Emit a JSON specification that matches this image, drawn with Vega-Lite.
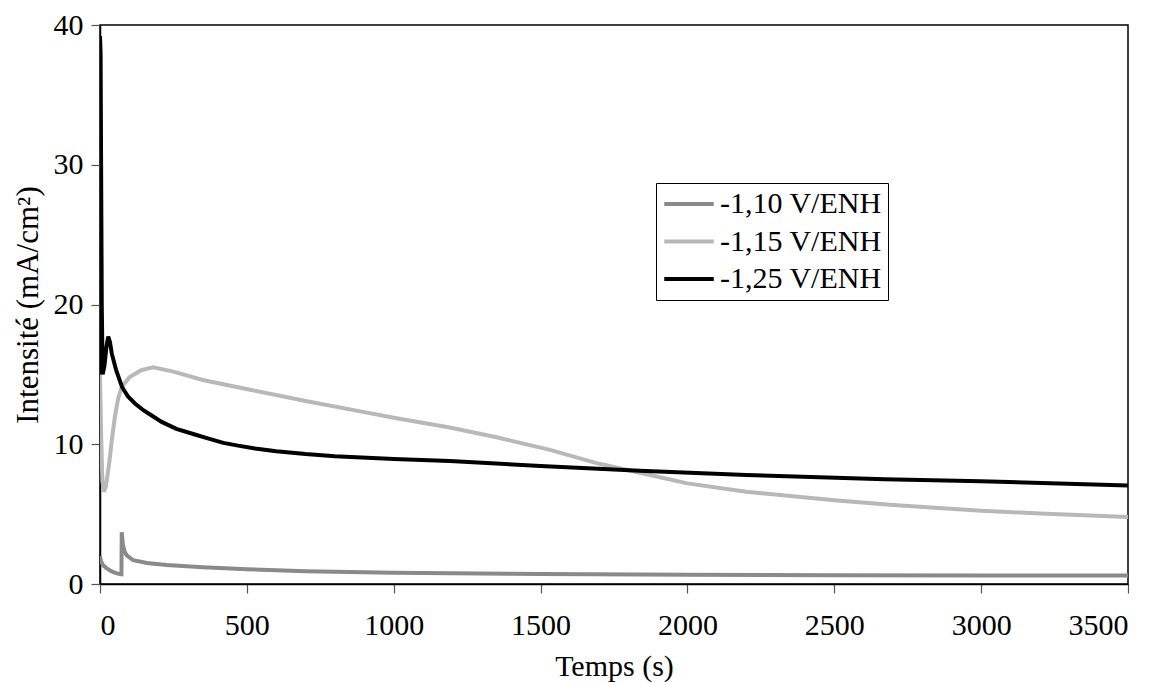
{
  "$schema": "https://vega.github.io/schema/vega-lite/v6.json",
  "width": 1028,
  "height": 559,
  "autosize": {"type": "none"},
  "padding": {"left": 100, "top": 25, "right": 33, "bottom": 99},
  "background": "white",
  "config": {
    "font": "Liberation Serif",
    "view": {"stroke": "black", "strokeWidth": 1.5},
    "axis": {
      "domainColor": "black",
      "domainWidth": 1.5,
      "tickColor": "#555555",
      "tickSize": 9,
      "tickWidth": 1.2,
      "grid": false
    }
  },
  "data": {
    "values": [
      {"series": "-1,10 V/ENH", "t": 0, "v": 2.0},
      {"series": "-1,10 V/ENH", "t": 3, "v": 1.65},
      {"series": "-1,10 V/ENH", "t": 10, "v": 1.35},
      {"series": "-1,10 V/ENH", "t": 22, "v": 1.14},
      {"series": "-1,10 V/ENH", "t": 40, "v": 0.9},
      {"series": "-1,10 V/ENH", "t": 55, "v": 0.78},
      {"series": "-1,10 V/ENH", "t": 68, "v": 0.71},
      {"series": "-1,10 V/ENH", "t": 73, "v": 0.7},
      {"series": "-1,10 V/ENH", "t": 74, "v": 3.7},
      {"series": "-1,10 V/ENH", "t": 78, "v": 2.8},
      {"series": "-1,10 V/ENH", "t": 84, "v": 2.3},
      {"series": "-1,10 V/ENH", "t": 91, "v": 2.05},
      {"series": "-1,10 V/ENH", "t": 113, "v": 1.7},
      {"series": "-1,10 V/ENH", "t": 160, "v": 1.5},
      {"series": "-1,10 V/ENH", "t": 227, "v": 1.36},
      {"series": "-1,10 V/ENH", "t": 350, "v": 1.2},
      {"series": "-1,10 V/ENH", "t": 500, "v": 1.05},
      {"series": "-1,10 V/ENH", "t": 700, "v": 0.92},
      {"series": "-1,10 V/ENH", "t": 1000, "v": 0.8},
      {"series": "-1,10 V/ENH", "t": 1500, "v": 0.72},
      {"series": "-1,10 V/ENH", "t": 2000, "v": 0.66},
      {"series": "-1,10 V/ENH", "t": 2500, "v": 0.63},
      {"series": "-1,10 V/ENH", "t": 3000, "v": 0.6},
      {"series": "-1,10 V/ENH", "t": 3500, "v": 0.6},

      {"series": "-1,15 V/ENH", "t": 0, "v": 15.0},
      {"series": "-1,15 V/ENH", "t": 4, "v": 10.5},
      {"series": "-1,15 V/ENH", "t": 8, "v": 7.4},
      {"series": "-1,15 V/ENH", "t": 13, "v": 6.6},
      {"series": "-1,15 V/ENH", "t": 20, "v": 7.0},
      {"series": "-1,15 V/ENH", "t": 27, "v": 8.0},
      {"series": "-1,15 V/ENH", "t": 34, "v": 9.1},
      {"series": "-1,15 V/ENH", "t": 42, "v": 10.6},
      {"series": "-1,15 V/ENH", "t": 51, "v": 12.0},
      {"series": "-1,15 V/ENH", "t": 62, "v": 13.3},
      {"series": "-1,15 V/ENH", "t": 74, "v": 14.1},
      {"series": "-1,15 V/ENH", "t": 100, "v": 14.8},
      {"series": "-1,15 V/ENH", "t": 140, "v": 15.3},
      {"series": "-1,15 V/ENH", "t": 181, "v": 15.5},
      {"series": "-1,15 V/ENH", "t": 250, "v": 15.2},
      {"series": "-1,15 V/ENH", "t": 350, "v": 14.6},
      {"series": "-1,15 V/ENH", "t": 511, "v": 13.9},
      {"series": "-1,15 V/ENH", "t": 700, "v": 13.1},
      {"series": "-1,15 V/ENH", "t": 900, "v": 12.3},
      {"series": "-1,15 V/ENH", "t": 1000, "v": 11.9},
      {"series": "-1,15 V/ENH", "t": 1191, "v": 11.2},
      {"series": "-1,15 V/ENH", "t": 1350, "v": 10.5},
      {"series": "-1,15 V/ENH", "t": 1532, "v": 9.6},
      {"series": "-1,15 V/ENH", "t": 1700, "v": 8.6},
      {"series": "-1,15 V/ENH", "t": 1872, "v": 7.8},
      {"series": "-1,15 V/ENH", "t": 2000, "v": 7.2},
      {"series": "-1,15 V/ENH", "t": 2200, "v": 6.6},
      {"series": "-1,15 V/ENH", "t": 2500, "v": 6.0},
      {"series": "-1,15 V/ENH", "t": 2700, "v": 5.65},
      {"series": "-1,15 V/ENH", "t": 3000, "v": 5.25},
      {"series": "-1,15 V/ENH", "t": 3200, "v": 5.05},
      {"series": "-1,15 V/ENH", "t": 3500, "v": 4.8},

      {"series": "-1,25 V/ENH", "t": 0, "v": 39.2},
      {"series": "-1,25 V/ENH", "t": 2, "v": 38.0},
      {"series": "-1,25 V/ENH", "t": 6, "v": 20.0},
      {"series": "-1,25 V/ENH", "t": 9, "v": 15.0},
      {"series": "-1,25 V/ENH", "t": 15, "v": 15.6},
      {"series": "-1,25 V/ENH", "t": 22, "v": 17.0},
      {"series": "-1,25 V/ENH", "t": 28, "v": 17.7},
      {"series": "-1,25 V/ENH", "t": 34, "v": 17.3},
      {"series": "-1,25 V/ENH", "t": 40, "v": 16.5},
      {"series": "-1,25 V/ENH", "t": 55, "v": 15.3},
      {"series": "-1,25 V/ENH", "t": 75, "v": 14.1},
      {"series": "-1,25 V/ENH", "t": 96, "v": 13.4},
      {"series": "-1,25 V/ENH", "t": 120, "v": 12.9},
      {"series": "-1,25 V/ENH", "t": 150, "v": 12.4},
      {"series": "-1,25 V/ENH", "t": 180, "v": 12.0},
      {"series": "-1,25 V/ENH", "t": 210, "v": 11.6},
      {"series": "-1,25 V/ENH", "t": 260, "v": 11.1},
      {"series": "-1,25 V/ENH", "t": 323, "v": 10.7},
      {"series": "-1,25 V/ENH", "t": 370, "v": 10.4},
      {"series": "-1,25 V/ENH", "t": 420, "v": 10.1},
      {"series": "-1,25 V/ENH", "t": 470, "v": 9.9},
      {"series": "-1,25 V/ENH", "t": 528, "v": 9.7},
      {"series": "-1,25 V/ENH", "t": 600, "v": 9.5},
      {"series": "-1,25 V/ENH", "t": 700, "v": 9.3},
      {"series": "-1,25 V/ENH", "t": 800, "v": 9.15},
      {"series": "-1,25 V/ENH", "t": 1000, "v": 8.95},
      {"series": "-1,25 V/ENH", "t": 1191, "v": 8.8},
      {"series": "-1,25 V/ENH", "t": 1500, "v": 8.45},
      {"series": "-1,25 V/ENH", "t": 1838, "v": 8.1},
      {"series": "-1,25 V/ENH", "t": 2200, "v": 7.8},
      {"series": "-1,25 V/ENH", "t": 2672, "v": 7.5},
      {"series": "-1,25 V/ENH", "t": 3000, "v": 7.35},
      {"series": "-1,25 V/ENH", "t": 3500, "v": 7.05}
    ]
  },
  "mark": {"type": "line", "strokeWidth": 4, "clip": true},
  "encoding": {
    "x": {
      "field": "t",
      "type": "quantitative",
      "scale": {"domain": [0, 3500], "nice": false, "zero": false},
      "axis": {
        "values": [0, 500, 1000, 1500, 2000, 2500, 3000, 3500],
        "format": "d",
        "title": "Temps (s)",
        "labelFont": "Liberation Serif",
        "labelFontSize": 30,
        "labelColor": "black",
        "labelPadding": 17,
        "titleFont": "Liberation Serif",
        "titleFontSize": 30,
        "titleFontWeight": "normal",
        "titleColor": "black",
        "titlePadding": 11
      }
    },
    "y": {
      "field": "v",
      "type": "quantitative",
      "scale": {"domain": [0, 40], "nice": false},
      "axis": {
        "values": [0, 10, 20, 30, 40],
        "format": "d",
        "title": "Intensité (mA/cm²)",
        "labelFont": "Liberation Serif",
        "labelFontSize": 30,
        "labelColor": "black",
        "labelPadding": 8,
        "titleFont": "Liberation Serif",
        "titleFontSize": 31,
        "titleFontWeight": "normal",
        "titleColor": "black",
        "titlePadding": 9
      }
    },
    "color": {
      "field": "series",
      "type": "nominal",
      "scale": {"domain": ["-1,10 V/ENH", "-1,15 V/ENH", "-1,25 V/ENH"], "range": ["#8a8a8a", "#b8b8b8", "#000000"]},
      "legend": {
        "title": null,
        "orient": "none",
        "legendX": 556,
        "legendY": 158,
        "symbolType": "stroke",
        "symbolSize": 2450,
        "symbolStrokeWidth": 4,
        "clipHeight": 30,
        "strokeColor": "black",
        "fillColor": "white",
        "padding": 6,
        "rowPadding": 7.5,
        "labelOffset": 4,
        "labelFont": "Liberation Serif",
        "labelFontSize": 30,
        "labelColor": "black",
        "labelLimit": 400
      }
    }
  }
}
